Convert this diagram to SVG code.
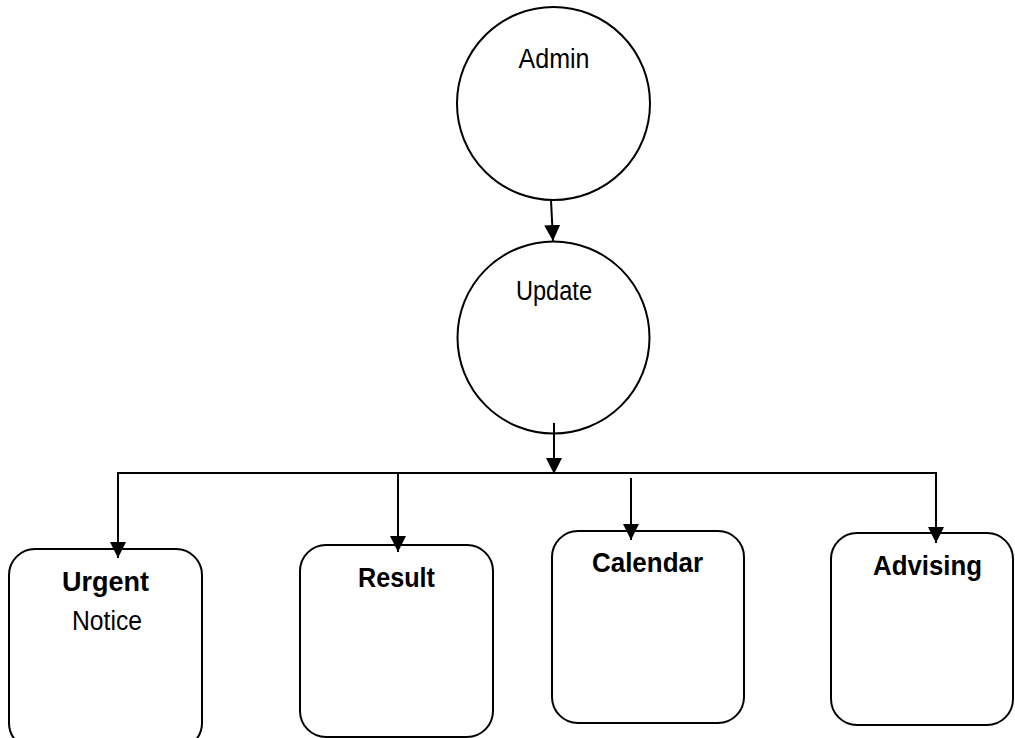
<svg xmlns="http://www.w3.org/2000/svg" width="1015" height="738" viewBox="0 0 1015 738">
<style>
.shape{fill:#fff;stroke:#000;stroke-width:2}
.line{fill:none;stroke:#000;stroke-width:2}
.reg{font-family:"Liberation Sans",Arial,sans-serif;font-size:27px;fill:#000;text-anchor:middle}
.bold{font-family:"Liberation Sans",Arial,sans-serif;font-size:27px;font-weight:bold;fill:#000;text-anchor:middle}
</style>
<defs>
<marker id="arrow" markerUnits="userSpaceOnUse" markerWidth="16" markerHeight="16" viewBox="0 0 16 16" refX="16" refY="8" orient="auto">
<path d="M0,0 L16,8 L0,16 Z" fill="#000"/>
</marker>
</defs>
<rect width="1015" height="738" fill="#fff"/>
<g id="admin">
<circle class="shape" cx="553.5" cy="103.5" r="96.5"/>
<text class="reg" x="554" y="68" textLength="71" lengthAdjust="spacingAndGlyphs">Admin</text>
</g>
<g id="update">
<circle class="shape" cx="553.5" cy="337.5" r="96"/>
<text class="reg" x="554" y="300" textLength="76" lengthAdjust="spacingAndGlyphs">Update</text>
</g>
<g id="urgent">
<rect class="shape" x="9" y="549" width="193" height="200" rx="26"/>
<text class="bold" x="105.5" y="591" textLength="87" lengthAdjust="spacingAndGlyphs">Urgent</text>
<text class="reg" x="107" y="630" textLength="70" lengthAdjust="spacingAndGlyphs">Notice</text>
</g>
<g id="result">
<rect class="shape" x="300" y="545" width="193" height="192" rx="26"/>
<text class="bold" x="396.5" y="587" textLength="77" lengthAdjust="spacingAndGlyphs">Result</text>
</g>
<g id="calendar">
<rect class="shape" x="552" y="531" width="192" height="192" rx="26"/>
<text class="bold" x="647.5" y="572" textLength="111" lengthAdjust="spacingAndGlyphs">Calendar</text>
</g>
<g id="advising">
<rect class="shape" x="831" y="533" width="182" height="192" rx="26"/>
<text class="bold" x="927.5" y="575" textLength="109" lengthAdjust="spacingAndGlyphs">Advising</text>
</g>
<g id="connectors">
<line class="line" x1="551" y1="200" x2="553" y2="241" marker-end="url(#arrow)"/>
<line class="line" x1="554" y1="423" x2="554" y2="474" marker-end="url(#arrow)"/>
<line class="line" x1="117" y1="473" x2="937" y2="473"/>
<line class="line" x1="118" y1="473" x2="118" y2="558" marker-end="url(#arrow)"/>
<line class="line" x1="398" y1="473" x2="398" y2="552" marker-end="url(#arrow)"/>
<line class="line" x1="631" y1="478" x2="631" y2="540" marker-end="url(#arrow)"/>
<line class="line" x1="936" y1="473" x2="936" y2="543" marker-end="url(#arrow)"/>
</g>
</svg>
